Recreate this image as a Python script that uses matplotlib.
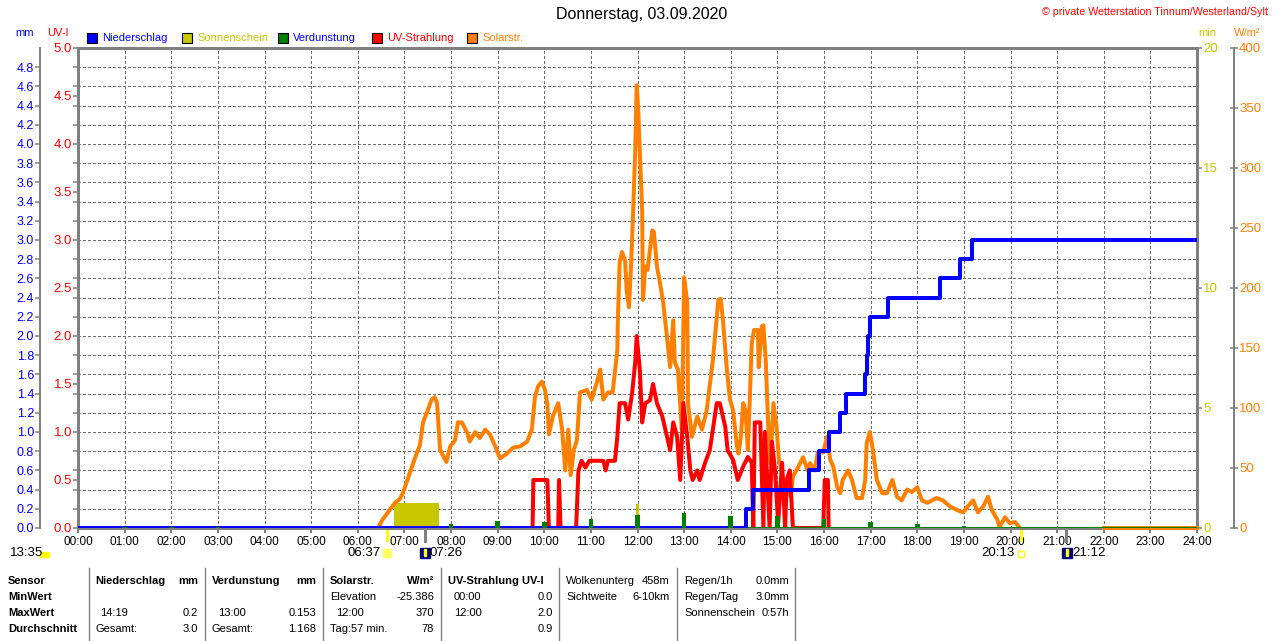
import matplotlib
matplotlib.use('Agg')
import matplotlib.pyplot as plt
from matplotlib.ticker import MultipleLocator
from matplotlib.patches import Rectangle
from matplotlib.lines import Line2D
import matplotlib.transforms as mtransforms

plt.rcParams['font.family'] = ['Liberation Sans', 'DejaVu Sans']

# --- Daten (Tageswerte 03.09.2020) ---

# Solarstrahlung W/m2
solar_time = ["06:26", "06:32", "06:41", "06:48", "06:54", "06:58", "07:07", "07:14", "07:20", "07:24",
              "07:30", "07:35", "07:39", "07:42", "07:46", "07:54", "07:59", "08:05", "08:09", "08:14",
              "08:21", "08:24", "08:31", "08:37", "08:44", "08:50", "08:57", "09:03", "09:10", "09:20",
              "09:29", "09:38", "09:44", "09:48", "09:52", "09:57", "10:01", "10:04", "10:06", "10:11",
              "10:18", "10:23", "10:27", "10:31", "10:34", "10:38", "10:42", "10:46", "10:55", "11:01",
              "11:08", "11:12", "11:16", "11:22", "11:28", "11:34", "11:35", "11:37", "11:40", "11:44",
              "11:46", "11:49", "11:52", "11:54", "11:57", "11:59", "12:01", "12:03", "12:06", "12:07",
              "12:10", "12:13", "12:19", "12:21", "12:25", "12:29", "12:33", "12:38", "12:42", "12:46",
              "12:48", "12:52", "12:57", "13:00", "13:04", "13:05", "13:10", "13:17", "13:23", "13:29",
              "13:37", "13:44", "13:47", "13:50", "13:55", "13:59", "14:03", "14:06", "14:08", "14:10",
              "14:13", "14:16", "14:19", "14:22", "14:24", "14:27", "14:30", "14:35", "14:36", "14:40",
              "14:42", "14:45", "14:48", "14:51", "14:55", "14:59", "15:02", "15:07", "15:10", "15:17",
              "15:20", "15:27", "15:33", "15:39", "15:42", "15:48", "15:52", "15:59", "16:04", "16:08",
              "16:12", "16:17", "16:21", "16:24", "16:31", "16:36", "16:42", "16:49", "16:53", "16:55",
              "16:59", "17:03", "17:08", "17:15", "17:21", "17:28", "17:34", "17:40", "17:47", "17:53",
              "18:00", "18:06", "18:13", "18:19", "18:25", "18:33", "18:42", "18:51", "18:59", "19:05",
              "19:12", "19:18", "19:25", "19:31", "19:36", "19:43", "19:46", "19:53", "19:59", "20:06",
              "20:12"]
solar_wm2 = [0, 7, 15, 21, 24, 29, 46, 59, 69, 88,
             98, 107, 109, 104, 65, 55, 68, 73, 88, 88,
             79, 72, 80, 75, 82, 78, 68, 58, 61, 67,
             68, 72, 82, 109, 118, 122, 115, 103, 78, 93,
             104, 82, 48, 82, 44, 65, 73, 113, 115, 107,
             122, 132, 107, 113, 113, 148, 179, 221, 230, 223,
             198, 184, 223, 257, 313, 369, 348, 313, 265, 190,
             218, 215, 248, 247, 218, 204, 188, 159, 134, 173,
             138, 132, 82, 209, 188, 104, 76, 93, 82, 98,
             140, 190, 191, 173, 132, 107, 98, 80, 68, 62,
             76, 104, 98, 65, 98, 154, 165, 165, 134, 168,
             169, 140, 88, 54, 104, 84, 57, 43, 38, 26,
             43, 51, 59, 48, 54, 48, 63, 63, 76, 57,
             51, 34, 29, 40, 48, 40, 25, 25, 40, 71,
             80, 65, 40, 29, 29, 40, 26, 23, 32, 30,
             34, 23, 21, 23, 25, 23, 18, 15, 13, 18,
             23, 13, 18, 26, 15, 7, 1, 9, 4, 5,
             0]
solar_night_time = ["22:00", "24:00"]
solar_night_wm2 = [0, 0]

# UV-Strahlung UV-I
uv_time = ["09:45", "09:46", "10:04", "10:06", "10:18", "10:19", "10:21", "10:41", "10:44", "10:48",
           "10:53", "10:58", "11:16", "11:19", "11:22", "11:31", "11:34", "11:37", "11:44", "11:48",
           "11:53", "11:57", "11:59", "12:03", "12:06", "12:10", "12:16", "12:20", "12:25", "12:32",
           "12:38", "12:42", "12:46", "12:51", "12:55", "12:59", "13:04", "13:08", "13:11", "13:17",
           "13:20", "13:27", "13:33", "13:42", "13:46", "13:53", "13:56", "14:03", "14:09", "14:16",
           "14:22", "14:27", "14:29", "14:31", "14:38", "14:42", "14:44", "14:50", "14:53", "14:57",
           "15:01", "15:06", "15:10", "15:12", "15:16", "15:20", "15:59", "16:01", "16:05", "16:06"]
uv_index = [0.0, 0.5, 0.5, 0.0, 0.0, 0.5, 0.0, 0.0, 0.6, 0.7,
            0.63, 0.7, 0.7, 0.6, 0.7, 0.7, 0.95, 1.3, 1.3, 1.13,
            1.4, 1.72, 2.0, 1.65, 1.1, 1.3, 1.33, 1.5, 1.3, 1.16,
            0.95, 0.81, 1.1, 0.95, 0.5, 1.3, 0.95, 0.6, 0.5, 0.6,
            0.5, 0.68, 0.81, 1.3, 1.3, 1.05, 0.81, 0.71, 0.5, 0.64,
            0.74, 0.68, 0.0, 1.1, 1.1, 0.0, 1.0, 0.0, 0.9, 0.6,
            0.05, 0.68, 0.0, 0.5, 0.6, 0.0, 0.0, 0.5, 0.5, 0.0]

# Niederschlag kumuliert mm
rain_time = ["00:00", "14:19", "14:28", "15:41", "15:54", "16:07", "16:21", "16:28", "16:53",
             "16:55", "16:57", "16:59", "17:22", "18:29", "18:55", "19:10", "24:00"]
rain_mm = [0.0, 0.2, 0.4, 0.6, 0.8, 1.0, 1.2, 1.4, 1.6,
           1.8, 2.0, 2.2, 2.4, 2.6, 2.8, 3.0, 3.0]

# Verdunstung mm pro Stunde
evap_time = ["01:00", "02:00", "03:00", "08:00", "09:00", "10:00", "11:00", "12:00", "13:00",
             "14:00", "15:00", "16:00", "17:00", "18:00", "19:00", "20:00", "23:00"]
evap_mm = [0.01, 0.01, 0.01, 0.04, 0.07, 0.06, 0.09, 0.14, 0.153,
           0.12, 0.12, 0.09, 0.06, 0.04, 0.02, 0.01, 0.01]

# Sonnenschein min
sun_start = ["06:47", "11:58"]
sun_end = ["07:45", "12:02"]
sun_min = [1.05, 1.0]

sunrise, sunset = "06:37", "20:13"
moon_times = ["07:26", "21:12"]
day_length = "13:35"

hour_labels = ["%02d:00" % h for h in range(25)]

W, H = 1280, 641
GRAY = '#808080'
BLUE, YEL, GREEN, RED, ORANGE = '#0000ff', '#c8c800', '#008000', '#ff0000', '#ff8000'
FS = 8.0      # Texte
TFS = 8.5     # Achsenbeschriftung


def hm(t):
    h, m = t.split(':')
    return int(h) + int(m) / 60.0


def fx(x):
    return x / W


def fy(y):
    return 1 - y / H


def px(p):
    # Pixel -> Punkte
    return p * 72.0 / 100


fig = plt.figure(figsize=(12.8, 6.41), dpi=100)
fig.patch.set_facecolor('white')

l, r, t, b = 78, 1197, 48, 528
ax = fig.add_axes([fx(l), fy(b), (r - l) / W, (b - t) / H])
ax_w = ax.twinx()
ax_uv = ax.twinx()
ax_mm = ax.twinx()

# Basis: Sonnenschein (min) und Raster
ax.set_xlim(0, 24)
ax.set_ylim(0, 20)
ax.yaxis.tick_right()
ax.set_yticks([0, 5, 10, 15, 20])
ax.yaxis.set_minor_locator(MultipleLocator(0.8))
ax.set_xticks(range(25))
ax.set_xticklabels(hour_labels, fontsize=TFS)
ax.tick_params(axis='x', colors=GRAY, labelcolor='black', length=px(5), width=px(2), pad=px(3))
ax.tick_params(axis='y', which='major', colors=GRAY, labelcolor=YEL, length=px(5), width=px(1.5),
               labelsize=TFS + 1, pad=px(1))
ax.tick_params(axis='y', which='minor', length=0)
grid_kw = dict(color='#707070', ls=(0, (px(3), px(3))), lw=px(1), antialiased=False)
ax.grid(axis='x', which='major', **grid_kw)
ax.grid(axis='y', which='minor', **grid_kw)
for s in ax.spines.values():
    s.set_color(GRAY)
    s.set_linewidth(px(3))

ss = [hm(s) for s in sun_start]
se = [hm(s) for s in sun_end]
ax.bar(ss, sun_min, width=[e - s for s, e in zip(ss, se)], align='edge', color=YEL, zorder=3)

# Solarstrahlung
ax_w.set_ylim(0, 400)
ax_w.set_yticks(range(0, 401, 50))
ax_w.tick_params(axis='y', colors=GRAY, labelcolor=ORANGE, direction='inout', length=px(8),
                 width=px(1.5), labelsize=TFS + 1, pad=px(1))
for k, s in ax_w.spines.items():
    s.set_visible(k == 'right')
ax_w.spines['right'].set_position(('outward', px(37)))
ax_w.spines['right'].set_color(GRAY)
ax_w.spines['right'].set_linewidth(px(2))
ax_w.plot([hm(s) for s in solar_time], solar_wm2, color=ORANGE, lw=px(4))
ax_w.plot([hm(s) for s in solar_night_time], solar_night_wm2, color=ORANGE, lw=px(4), clip_on=False)

# UV-Index
ax_uv.set_ylim(0, 5)
ax_uv.yaxis.tick_left()
ax_uv.set_yticks([i * 0.5 for i in range(11)])
ax_uv.set_yticklabels(["%.1f" % (i * 0.5) for i in range(11)])
ax_uv.yaxis.set_minor_locator(MultipleLocator(0.2))
ax_uv.tick_params(axis='y', which='both', colors=GRAY, labelcolor=RED, length=px(5), width=px(1.5),
                  labelsize=TFS + 1, pad=px(1))
for s in ax_uv.spines.values():
    s.set_visible(False)
ax_uv.plot([hm(s) for s in uv_time], uv_index, color=RED, lw=px(4))

# Niederschlag + Verdunstung
ax_mm.set_ylim(0, 5)
ax_mm.yaxis.tick_left()
ax_mm.set_yticks([i * 0.2 for i in range(25)])
ax_mm.set_yticklabels(["%.1f" % (i * 0.2) for i in range(25)])
ax_mm.tick_params(axis='y', colors=GRAY, labelcolor=BLUE, length=px(5), width=px(1.5),
                  labelsize=TFS + 0.5, pad=px(1))
for k, s in ax_mm.spines.items():
    s.set_visible(k == 'left')
ax_mm.spines['left'].set_position(('outward', px(38)))
ax_mm.spines['left'].set_color(GRAY)
ax_mm.spines['left'].set_linewidth(px(2))
ax_mm.axhline(0, color=GREEN, lw=px(3), zorder=1)
ax_mm.step([hm(s) for s in rain_time], rain_mm, where='post', color=BLUE, lw=px(4), zorder=2)
ax_mm.bar([hm(s) for s in evap_time], evap_mm, width=0.1, color=GREEN, zorder=3)

# Sonnenauf-/untergang und Mondmarken unter der Zeitachse
trans = mtransforms.blended_transform_factory(ax.transData, ax.transAxes)
for tm in [sunrise, sunset]:
    ax.plot([hm(tm)] * 2, [0, -0.025], color='#ffff00', lw=px(3), transform=trans, clip_on=False)
for tm in moon_times:
    ax.plot([hm(tm)] * 2, [0, -0.028], color=GRAY, lw=px(3), transform=trans, clip_on=False)

fig.text(fx(10), fy(553), day_length, fontsize=TFS + 1, va='center', ha='left')
fig.patches.append(Rectangle((fx(40), fy(557)), 9 / W, 5 / H, transform=fig.transFigure,
                             color='#ffff00'))
fig.text(fx(381), fy(553), sunrise, fontsize=TFS + 1, va='center', ha='right')
fig.patches.append(Rectangle((fx(383), fy(557)), 8 / W, 8 / H, transform=fig.transFigure,
                             color='#ffff60'))
fig.text(fx(1015), fy(553), sunset, fontsize=TFS + 1, va='center', ha='right')
fig.patches.append(Rectangle((fx(1018), fy(557)), 6 / W, 6 / H, transform=fig.transFigure,
                             facecolor='white', edgecolor='#ffff00', lw=1))
for x0, tm in [(420, moon_times[0]), (1062, moon_times[1])]:
    fig.patches.append(Rectangle((fx(x0), fy(558)), 10 / W, 10 / H, transform=fig.transFigure,
                                 color='#000080'))
    fig.patches.append(Rectangle((fx(x0 + 4), fy(556)), 2 / W, 7 / H, transform=fig.transFigure,
                                 color='#ffff00'))
    fig.text(fx(x0 + 10), fy(553), tm, fontsize=TFS + 1, va='center', ha='left')

# Kopf
fig.text(fx(642), fy(15), "Donnerstag, 03.09.2020", fontsize=11.5, ha='center', va='center')
fig.text(fx(1268), fy(12), "© private Wetterstation Tinnum/Westerland/Sylt", fontsize=FS - 0.3,
         color=RED, ha='right', va='center')
fig.text(fx(15), fy(33), "mm", fontsize=FS, color=BLUE, va='center')
fig.text(fx(47), fy(33), "UV-I", fontsize=FS, color=RED, va='center')
fig.text(fx(1198), fy(33), "min", fontsize=FS, color=YEL, va='center')
fig.text(fx(1234), fy(33), "W/m²", fontsize=FS, color=ORANGE, va='center')

legend = [("Niederschlag", BLUE, BLUE, 87), ("Sonnenschein", YEL, YEL, 182),
          ("Verdunstung", GREEN, BLUE, 278), ("UV-Strahlung", RED, RED, 372),
          ("Solarstr.", ORANGE, ORANGE, 467)]
for name, fc, tc, x0 in legend:
    fig.patches.append(Rectangle((fx(x0), fy(43)), 10 / W, 10 / H, transform=fig.transFigure,
                                 facecolor=fc, edgecolor='black', lw=0.8))
    fig.text(fx(x0 + 15), fy(38), name, fontsize=FS, color=tc, va='center')

# Tabelle unten
rows = [581, 597, 613, 629]
for y, lab in zip(rows, ["Sensor", "MinWert", "MaxWert", "Durchschnitt"]):
    fig.text(fx(8), fy(y), lab, fontsize=FS, weight='bold', va='center')
for x in [89, 205, 323, 441, 559, 677, 795]:
    fig.add_artist(Line2D([fx(x), fx(x)], [fy(568), 0], transform=fig.transFigure,
                          color=GRAY, lw=1))

cells = [
    # (x links, x rechts, Zeile, links, rechts, fett)
    (95, 198, 0, "Niederschlag", "mm", True),
    (100, 198, 2, "14:19", "0.2", False),
    (95, 198, 3, "Gesamt:", "3.0", False),
    (212, 316, 0, "Verdunstung", "mm", True),
    (218, 316, 2, "13:00", "0.153", False),
    (212, 316, 3, "Gesamt:", "1.168", False),
    (330, 434, 0, "Solarstr.", "W/m²", True),
    (330, 434, 1, "Elevation", "-25.386", False),
    (336, 434, 2, "12:00", "370", False),
    (330, 434, 3, "Tag:57 min.", "78", False),
    (448, 553, 0, "UV-Strahlung UV-I", "", True),
    (454, 553, 1, "00:00", "0.0", False),
    (454, 553, 2, "12:00", "2.0", False),
    (454, 553, 3, "", "0.9", False),
    (566, 670, 0, "Wolkenunterg", "458m", False),
    (566, 670, 1, "Sichtweite", "6-10km", False),
    (684, 789, 0, "Regen/1h", "0.0mm", False),
    (684, 789, 1, "Regen/Tag", "3.0mm", False),
    (684, 789, 2, "Sonnenschein", "0:57h", False),
]
for xl, xr, row, left, right, bold in cells:
    w = 'bold' if bold else 'normal'
    if left:
        fig.text(fx(xl), fy(rows[row]), left, fontsize=FS, weight=w, va='center', ha='left')
    if right:
        fig.text(fx(xr), fy(rows[row]), right, fontsize=FS, weight=w, va='center', ha='right')

fig.savefig('out.png', dpi=100)
